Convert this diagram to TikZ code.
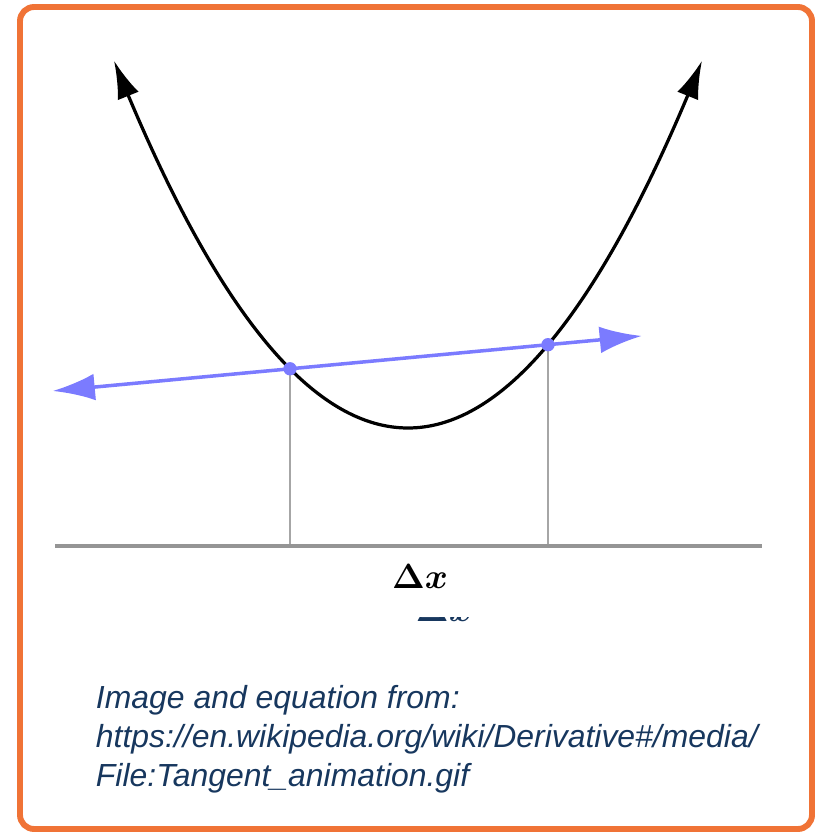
\documentclass[tikz,border=0pt]{standalone}
\usepackage{amsmath,bm}
\usepackage{fontspec}
\setsansfont{Liberation Sans}
\usetikzlibrary{calc,arrows.meta}
\usetikzlibrary{positioning}
\definecolor{sl-frame}{HTML}{F07336}
\definecolor{sl-text}{HTML}{17375E}
\definecolor{sl-tangent}{HTML}{7B7BFF}
\definecolor{sl-grid}{HTML}{A6A6A6}

\begin{document}
\begin{tikzpicture}[
    x=0.025cm, y=-0.025cm,
    >=latex
  ]

  % Global Style Definitions
  \tikzset{
    frame/.style={draw=sl-frame, line width=4.2pt, rounded corners=10pt},
    curve/.style={black, line width=2.3pt, {Latex[length=27pt,width=16pt]}-{Latex[length=27pt,width=16pt]}},
    tangent/.style={sl-tangent, line width=2.5pt, {Latex[length=30pt,width=19pt]}-{Latex[length=30pt,width=19pt]}},
    guide/.style={sl-grid, line width=1.4pt},
    axis/.style={sl-grid!90!black, line width=2.2pt},
    dot/.style={circle, fill=sl-tangent, inner sep=0pt, minimum size=9.5pt},
    caption/.style={text=sl-text, font=\fontsize{22.7}{27.6}\selectfont\sffamily\itshape, align=left}
  }

  \useasboundingbox (0,0) rectangle (815,832);
  \draw[frame] (20,7) rectangle (812,829);

  % Secant points on the parabola
  \coordinate (p1) at (290,368.8);
  \coordinate (p2) at (548,344.7);
  \coordinate (tl) at ($(p1)!-0.92!(p2)$);
  \coordinate (tr) at ($(p1)!1.364!(p2)$);

  % Axis floor
  \coordinate (al) at (55,546);
  \coordinate (ar) at (762,546);

  % Parabola
  \draw[curve] plot[domain=114:702, samples=90, smooth] (\x, {428-42.5*((\x-408)/100)^2});

  % Verticals down to the axis
  \draw[guide] (p1) -- (p1 |- al);
  \draw[guide] (p2) -- (p2 |- al);
  \draw[axis] (al) -- (ar);

  % Secant line
  \draw[tangent] (tl) -- (tr);
  \node (d1) [dot] at (p1) {};
  \node (d2) [dot] at (p2) {};

  % Labels
  \node (dx) [anchor=base, font=\fontsize{23}{27}\selectfont\boldmath] at (420,588) {$\Delta x$};
  \begin{scope}
    \clip (400,617) rectangle (480,623);
    \node (dxcut) [anchor=base west, text=sl-text, font=\fontsize{23}{27}\selectfont\boldmath] at (411,621) {$\Delta x$};
  \end{scope}

  \node (source) [caption, anchor=base west] at (91,786)
    {Image and equation from:\\https://en.wikipedia.org/wiki/Derivative\#/media/\\File:Tangent\_animation.gif};

\end{tikzpicture}
\end{document}
